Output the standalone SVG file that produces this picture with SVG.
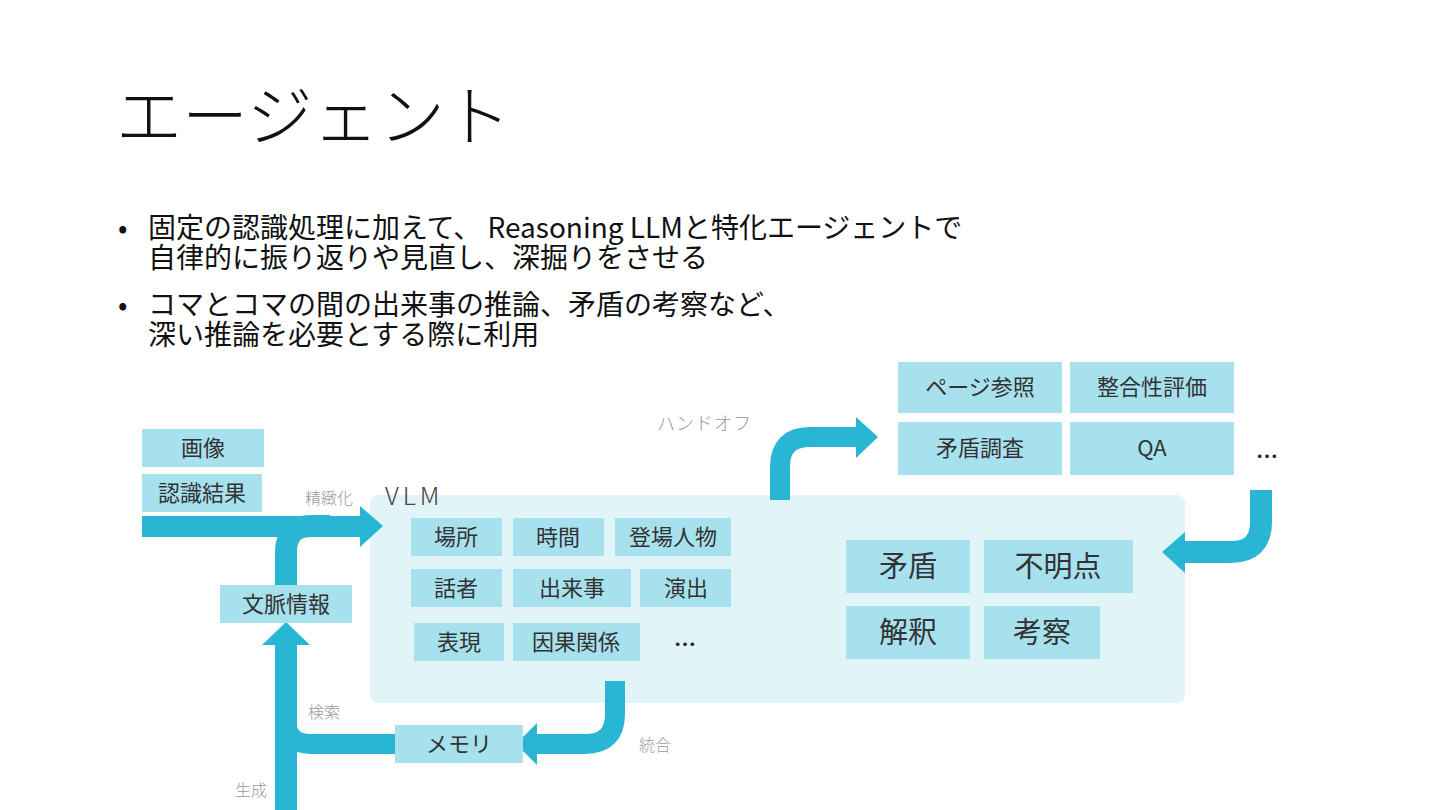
<svg xmlns="http://www.w3.org/2000/svg" width="1440" height="810" viewBox="0 0 1440 810">
<style>
text{font-family:"Noto Sans CJK JP","Noto Sans",sans-serif;}
.title{font-size:66px;font-weight:300;fill:#111;}
.bul{font-size:28px;fill:#111;}
.box{fill:#a7e1ee;}
.bt{font-size:22px;fill:#333;text-anchor:middle;}
.bb{font-size:29px;fill:#333;text-anchor:middle;}
.lbl{font-size:16px;fill:#999;font-weight:300;}
.arr{fill:none;stroke:#29b6d4;}
.ah{fill:#29b6d4;}
</style>
<rect width="1440" height="810" fill="#fff"/>
<text class="title" x="116" y="140">エージェント</text>
<g id="bullets">
<text class="bul" x="118" y="238">•</text>
<text class="bul" x="148" y="238">固定の認識処理に加えて、 Reasoning LLMと特化エージェントで</text>
<text class="bul" x="148" y="268">自律的に振り返りや見直し、深掘りをさせる</text>
<text class="bul" x="118" y="315">•</text>
<text class="bul" x="148" y="315">コマとコマの間の出来事の推論、矛盾の考察など、</text>
<text class="bul" x="148" y="345">深い推論を必要とする際に利用</text>
</g>
<g id="vlm">
<rect x="370" y="495" width="815" height="208" rx="8" fill="#e1f4f8"/>
<text x="385" y="505" style="font-size:25px;font-weight:300;fill:#444;letter-spacing:4px">VLM</text>
</g>
<g id="connectors">
<rect x="142" y="516" width="218" height="21" class="ah"/>
<polygon class="ah" points="360,506 383,526 360,547"/>
<path class="arr" stroke-width="22" d="M286,585 V552 Q286,526 312,526 H330"/>
<path class="arr" stroke-width="22" d="M286,810 V640"/>
<polygon class="ah" points="262,645 286,622 310,645"/>
<path class="arr" stroke-width="20" d="M395,744 H311 Q286,744 286,719"/>
<path class="arr" stroke-width="20" d="M615,681 V714 Q615,744 585,744 H535"/>
<polygon class="ah" points="537,723 516,744 537,765"/>
<path class="arr" stroke-width="20" d="M780,500 V467 Q780,437 810,437 H858"/>
<polygon class="ah" points="856,417 878,437 856,458"/>
<path class="arr" stroke-width="22" d="M1261,490 V522 Q1261,552 1231,552 H1183"/>
<polygon class="ah" points="1185,532 1162,552 1185,573"/>
</g>
<g id="labels">
<text class="lbl" x="305" y="504">精緻化</text>
<text class="lbl" x="657" y="430" style="font-size:18px;letter-spacing:1px">ハンドオフ</text>
<text class="lbl" x="308" y="718">検索</text>
<text class="lbl" x="639" y="751">統合</text>
<text class="lbl" x="235" y="796">生成</text>
</g>
<g id="n-image"><rect class="box" x="142" y="429" width="122" height="38"/><text class="bt" x="203" y="456">画像</text></g>
<g id="n-recog"><rect class="box" x="142" y="474" width="120" height="38"/><text class="bt" x="202" y="501">認識結果</text></g>
<g id="n-context"><rect class="box" x="220" y="585" width="132" height="38"/><text class="bt" x="286" y="612">文脈情報</text></g>
<g id="n-memory"><rect class="box" x="395" y="725" width="128" height="38"/><text class="bt" x="459" y="752">メモリ</text></g>
<g id="n-place"><rect class="box" x="411" y="518" width="91" height="38"/><text class="bt" x="456" y="545">場所</text></g>
<g id="n-time"><rect class="box" x="513" y="518" width="91" height="38"/><text class="bt" x="558" y="545">時間</text></g>
<g id="n-chars"><rect class="box" x="615" y="518" width="116" height="38"/><text class="bt" x="673" y="545">登場人物</text></g>
<g id="n-speaker"><rect class="box" x="411" y="569" width="91" height="38"/><text class="bt" x="456" y="596">話者</text></g>
<g id="n-event"><rect class="box" x="513" y="569" width="118" height="38"/><text class="bt" x="572" y="596">出来事</text></g>
<g id="n-direction"><rect class="box" x="640" y="569" width="91" height="38"/><text class="bt" x="686" y="596">演出</text></g>
<g id="n-expr"><rect class="box" x="414" y="623" width="90" height="38"/><text class="bt" x="459" y="650">表現</text></g>
<g id="n-causal"><rect class="box" x="513" y="623" width="127" height="38"/><text class="bt" x="576" y="650">因果関係</text></g>
<text x="685" y="652" style="font-size:22px;font-weight:bold;fill:#222;text-anchor:middle">…</text>
<g id="n-contra"><rect class="box" x="846" y="540" width="124" height="53"/><text class="bb" x="908" y="577">矛盾</text></g>
<g id="n-unclear"><rect class="box" x="984" y="540" width="149" height="53"/><text class="bb" x="1058" y="577">不明点</text></g>
<g id="n-interp"><rect class="box" x="846" y="606" width="124" height="53"/><text class="bb" x="908" y="643">解釈</text></g>
<g id="n-consider"><rect class="box" x="984" y="606" width="116" height="53"/><text class="bb" x="1042" y="643">考察</text></g>
<g id="n-page"><rect class="box" x="898" y="362" width="164" height="51"/><text class="bt" x="980" y="395">ページ参照</text></g>
<g id="n-consist"><rect class="box" x="1070" y="362" width="164" height="51"/><text class="bt" x="1152" y="395">整合性評価</text></g>
<g id="n-investigate"><rect class="box" x="898" y="422" width="164" height="53"/><text class="bt" x="980" y="456">矛盾調査</text></g>
<g id="n-qa"><rect class="box" x="1070" y="422" width="164" height="53"/><text class="bt" x="1152" y="456">QA</text></g>
<text x="1267" y="464" style="font-size:22px;font-weight:bold;fill:#222;text-anchor:middle">…</text>
</svg>
